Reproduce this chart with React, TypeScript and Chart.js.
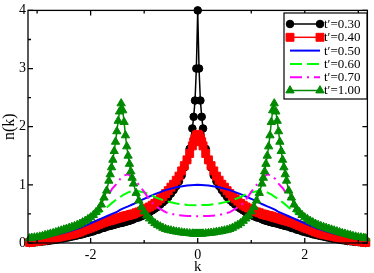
import React, { useEffect, useRef } from 'react';
import { Chart, registerables } from 'chart.js';

Chart.register(...registerables);

// k grid for the marker series (black circles, red squares, green triangles)
const kMarked = [
  -3.14, -3.1, -3.05, -3.0, -2.95,
  -2.9, -2.85, -2.8, -2.75, -2.7, -2.65, -2.6, -2.55, -2.5, -2.45,
  -2.4, -2.35, -2.3, -2.25, -2.2, -2.15, -2.1, -2.05, -2.0, -1.95,
  -1.9, -1.85, -1.8, -1.75, -1.7, -1.66, -1.635, -1.61, -1.585, -1.56,
  -1.535, -1.51, -1.485, -1.46, -1.43, -1.4, -1.375, -1.35, -1.325, -1.3,
  -1.275, -1.25, -1.225, -1.2, -1.15, -1.1, -1.05, -1.0, -0.95, -0.9,
  -0.85, -0.8, -0.75, -0.7, -0.65, -0.6, -0.55, -0.5, -0.45, -0.4,
  -0.35, -0.3, -0.25, -0.2, -0.15, -0.1, -0.075, -0.05, -0.025,
  0, 0.025, 0.05, 0.075, 0.1, 0.15, 0.2, 0.25, 0.3, 0.35,
  0.4, 0.45, 0.5, 0.55, 0.6, 0.65, 0.7, 0.75, 0.8, 0.85,
  0.9, 0.95, 1.0, 1.05, 1.1, 1.15, 1.2, 1.225, 1.25, 1.275,
  1.3, 1.325, 1.35, 1.375, 1.4, 1.43, 1.46, 1.485, 1.51, 1.535,
  1.56, 1.585, 1.61, 1.635, 1.66, 1.7, 1.75, 1.8, 1.85, 1.9,
  1.95, 2.0, 2.05, 2.1, 2.15, 2.2, 2.25, 2.3, 2.35, 2.4,
  2.45, 2.5, 2.55, 2.6, 2.65, 2.7, 2.75, 2.8, 2.85, 2.9,
  2.95, 3.0, 3.05, 3.1, 3.14,
];

// t' = 0.30
const nT030 = [
  0.0, 0.005, 0.01, 0.015, 0.02,
  0.025, 0.03, 0.035, 0.042, 0.05, 0.057, 0.065, 0.072, 0.08, 0.09,
  0.1, 0.11, 0.12, 0.13, 0.14, 0.15, 0.165, 0.175, 0.19, 0.2,
  0.22, 0.23, 0.25, 0.26, 0.28, 0.29, 0.295, 0.3, 0.31, 0.315,
  0.32, 0.33, 0.335, 0.34, 0.345, 0.35, 0.36, 0.365, 0.37, 0.38,
  0.385, 0.39, 0.4, 0.41, 0.43, 0.44, 0.46, 0.48, 0.51, 0.53,
  0.56, 0.59, 0.62, 0.66, 0.7, 0.74, 0.79, 0.85, 0.91, 0.98,
  1.06, 1.16, 1.3, 1.42, 1.62, 1.97, 2.17, 2.45, 3.0,
  4.0, 3.0, 2.45, 2.17, 1.97, 1.62, 1.42, 1.3, 1.16, 1.06,
  0.98, 0.91, 0.85, 0.79, 0.74, 0.7, 0.66, 0.62, 0.59, 0.56,
  0.53, 0.51, 0.48, 0.46, 0.44, 0.43, 0.41, 0.4, 0.39, 0.385,
  0.38, 0.37, 0.365, 0.36, 0.35, 0.345, 0.34, 0.335, 0.33, 0.32,
  0.315, 0.31, 0.3, 0.295, 0.29, 0.28, 0.26, 0.25, 0.23, 0.22,
  0.2, 0.19, 0.175, 0.165, 0.15, 0.14, 0.13, 0.12, 0.11, 0.1,
  0.09, 0.08, 0.072, 0.065, 0.057, 0.05, 0.042, 0.035, 0.03, 0.025,
  0.02, 0.015, 0.01, 0.005, 0.0,
];

// t' = 0.40
const nT040 = [
  0.01, 0.015, 0.025, 0.03, 0.038,
  0.045, 0.052, 0.06, 0.07, 0.08, 0.09, 0.1, 0.11, 0.12, 0.13,
  0.14, 0.15, 0.16, 0.175, 0.19, 0.21, 0.23, 0.245, 0.26, 0.28,
  0.3, 0.32, 0.34, 0.355, 0.37, 0.38, 0.39, 0.395, 0.4, 0.41,
  0.415, 0.42, 0.43, 0.435, 0.44, 0.45, 0.46, 0.465, 0.47, 0.475,
  0.48, 0.49, 0.495, 0.5, 0.52, 0.535, 0.55, 0.57, 0.6, 0.62,
  0.65, 0.68, 0.72, 0.76, 0.8, 0.85, 0.9, 0.96, 1.01, 1.08,
  1.15, 1.24, 1.33, 1.43, 1.54, 1.67, 1.74, 1.8, 1.85,
  1.87, 1.85, 1.8, 1.74, 1.67, 1.54, 1.43, 1.33, 1.24, 1.15,
  1.08, 1.01, 0.96, 0.9, 0.85, 0.8, 0.76, 0.72, 0.68, 0.65,
  0.62, 0.6, 0.57, 0.55, 0.535, 0.52, 0.5, 0.495, 0.49, 0.48,
  0.475, 0.47, 0.465, 0.46, 0.45, 0.44, 0.435, 0.43, 0.42, 0.415,
  0.41, 0.4, 0.395, 0.39, 0.38, 0.37, 0.355, 0.34, 0.32, 0.3,
  0.28, 0.26, 0.245, 0.23, 0.21, 0.19, 0.175, 0.16, 0.15, 0.14,
  0.13, 0.12, 0.11, 0.1, 0.09, 0.08, 0.07, 0.06, 0.052, 0.045,
  0.038, 0.03, 0.025, 0.015, 0.01,
];

// t' = 1.00
const nT100 = [
  0.08, 0.09, 0.095, 0.1, 0.11,
  0.12, 0.135, 0.145, 0.16, 0.17, 0.185, 0.2, 0.215, 0.23, 0.245,
  0.26, 0.275, 0.29, 0.31, 0.33, 0.355, 0.38, 0.41, 0.44, 0.48,
  0.53, 0.58, 0.66, 0.78, 0.9, 1.07, 1.18, 1.3, 1.43, 1.58,
  1.74, 1.92, 2.1, 2.26, 2.4, 2.28, 2.08, 1.85, 1.66, 1.5,
  1.36, 1.23, 1.12, 1.02, 0.86, 0.73, 0.62, 0.54, 0.47, 0.42,
  0.38, 0.34, 0.31, 0.285, 0.26, 0.24, 0.225, 0.215, 0.205, 0.195,
  0.19, 0.18, 0.175, 0.17, 0.165, 0.162, 0.16, 0.16, 0.16,
  0.16, 0.16, 0.16, 0.16, 0.162, 0.165, 0.17, 0.175, 0.18, 0.19,
  0.195, 0.205, 0.215, 0.225, 0.24, 0.26, 0.285, 0.31, 0.34, 0.38,
  0.42, 0.47, 0.54, 0.62, 0.73, 0.86, 1.02, 1.12, 1.23, 1.36,
  1.5, 1.66, 1.85, 2.08, 2.28, 2.4, 2.26, 2.1, 1.92, 1.74,
  1.58, 1.43, 1.3, 1.18, 1.07, 0.9, 0.78, 0.66, 0.58, 0.53,
  0.48, 0.44, 0.41, 0.38, 0.355, 0.33, 0.31, 0.29, 0.275, 0.26,
  0.245, 0.23, 0.215, 0.2, 0.185, 0.17, 0.16, 0.145, 0.135, 0.12,
  0.11, 0.1, 0.095, 0.09, 0.08,
];

// k grid for the plain line series
const kLine = [
  -3.14, -3.0, -2.8, -2.6, -2.4, -2.2, -2.0, -1.8, -1.7, -1.6, -1.5, -1.45, -1.38, -1.3, -1.2, -1.1, -1.0, -0.9,
  -0.8, -0.6, -0.4, -0.2,
  0,
  0.2, 0.4, 0.6, 0.8, 0.9, 1.0, 1.1, 1.2, 1.3, 1.38, 1.45, 1.5, 1.6, 1.7, 1.8, 2.0, 2.2, 2.4, 2.6, 2.8, 3.0, 3.14,
];

// t' = 0.50
const nT050 = [
  0.05, 0.07, 0.11, 0.15, 0.2, 0.26, 0.34, 0.42, 0.46, 0.5, 0.54, 0.57, 0.6, 0.63, 0.67, 0.72, 0.76, 0.8,
  0.84, 0.91, 0.96, 0.99,
  1.0,
  0.99, 0.96, 0.91, 0.84, 0.8, 0.76, 0.72, 0.67, 0.63, 0.6, 0.57, 0.54, 0.5, 0.46, 0.42, 0.34, 0.26, 0.2, 0.15, 0.11, 0.07, 0.05,
];

// t' = 0.60
const nT060 = [
  0.05, 0.07, 0.11, 0.16, 0.22, 0.3, 0.41, 0.54, 0.61, 0.69, 0.76, 0.79, 0.83, 0.87, 0.9, 0.89, 0.87, 0.84,
  0.79, 0.72, 0.68, 0.655,
  0.65,
  0.655, 0.68, 0.72, 0.79, 0.84, 0.87, 0.89, 0.9, 0.87, 0.83, 0.79, 0.76, 0.69, 0.61, 0.54, 0.41, 0.3, 0.22, 0.16, 0.11, 0.07, 0.05,
];

// t' = 0.70
const nT070 = [
  0.05, 0.07, 0.11, 0.16, 0.23, 0.32, 0.45, 0.63, 0.78, 0.93, 1.03, 1.1, 1.16, 1.18, 1.12, 1.0, 0.88, 0.74,
  0.64, 0.53, 0.48, 0.465,
  0.46,
  0.465, 0.48, 0.53, 0.64, 0.74, 0.88, 1.0, 1.12, 1.18, 1.16, 1.1, 1.03, 0.93, 0.78, 0.63, 0.45, 0.32, 0.23, 0.16, 0.11, 0.07, 0.05,
];

const legendLabels = ['t\u2032=0.30', 't\u2032=0.40', 't\u2032=0.50', 't\u2032=0.60', 't\u2032=0.70', 't\u2032=1.00'];

const xTickValues = [-2, 0, 2];
const xTickLabels = ['-2', '0', '2'];
const xMinorValues = [-3, -1, 1, 3];
const yTickValues = [0, 1, 2, 3, 4];
const yTickLabels = ['0', '1', '2', '3', '4'];
const yMinorValues = [0.5, 1.5, 2.5, 3.5];

const SERIF = "'Liberation Serif', 'DejaVu Serif', serif";

type Series = {
  label: string;
  xs: number[];
  ys: number[];
  color: string;
  width: number;
  dash: number[];
  marker: string | null;
  radius: number;
  order: number;
};

const series: Series[] = [
  { label: legendLabels[0], xs: kMarked, ys: nT030, color: '#000000', width: 1.5, dash: [], marker: 'circle', radius: 3.8, order: 6 },
  { label: legendLabels[1], xs: kMarked, ys: nT040, color: '#ff0000', width: 1.5, dash: [], marker: 'rect', radius: 5.6, order: 5 },
  { label: legendLabels[2], xs: kLine, ys: nT050, color: '#0000ff', width: 2, dash: [], marker: null, radius: 0, order: 4 },
  { label: legendLabels[3], xs: kLine, ys: nT060, color: '#00ff00', width: 2, dash: [12, 5], marker: null, radius: 0, order: 3 },
  { label: legendLabels[4], xs: kLine, ys: nT070, color: '#ff00ff', width: 2, dash: [12, 5, 2, 5], marker: null, radius: 0, order: 2 },
  { label: legendLabels[5], xs: kMarked, ys: nT100, color: '#008a00', width: 1.5, dash: [], marker: 'triangle', radius: 4.8, order: 1 },
];

function drawMarker(ctx: CanvasRenderingContext2D, style: string, x: number, y: number, r: number, color: string) {
  ctx.save();
  ctx.setLineDash([]);
  ctx.fillStyle = color;
  ctx.strokeStyle = color;
  ctx.lineWidth = 1;
  ctx.beginPath();
  if (style === 'circle') {
    ctx.arc(x, y, r, 0, Math.PI * 2);
  } else if (style === 'rect') {
    const s = r * Math.SQRT1_2;
    ctx.rect(x - s, y - s, 2 * s, 2 * s);
  } else if (style === 'triangle') {
    let a = 0;
    ctx.moveTo(x + Math.sin(a) * r, y - Math.cos(a) * r);
    a += (2 * Math.PI) / 3;
    ctx.lineTo(x + Math.sin(a) * r, y - Math.cos(a) * r);
    a += (2 * Math.PI) / 3;
    ctx.lineTo(x + Math.sin(a) * r, y - Math.cos(a) * r);
    ctx.closePath();
  }
  ctx.fill();
  ctx.stroke();
  ctx.restore();
}

const framePlugin = {
  id: 'frameTicks',
  afterDatasetsDraw(chart: any) {
    const { ctx, chartArea } = chart;
    const xs = chart.scales.x;
    const ys = chart.scales.y;
    const { left, right, top, bottom } = chartArea;
    ctx.save();
    ctx.strokeStyle = '#000';
    ctx.lineWidth = 1.3;
    ctx.setLineDash([]);
    const major = 5;
    const minor = 3;
    ctx.beginPath();
    const xt = (vals: number[], len: number) => {
      vals.forEach((v) => {
        const px = xs.getPixelForValue(v);
        ctx.moveTo(px, bottom);
        ctx.lineTo(px, bottom - len);
        ctx.moveTo(px, top);
        ctx.lineTo(px, top + len);
      });
    };
    const yt = (vals: number[], len: number) => {
      vals.forEach((v) => {
        const py = ys.getPixelForValue(v);
        ctx.moveTo(left, py);
        ctx.lineTo(left + len, py);
        ctx.moveTo(right, py);
        ctx.lineTo(right - len, py);
      });
    };
    xt(xTickValues, major);
    xt(xMinorValues, minor);
    yt(yTickValues, major);
    yt(yMinorValues, minor);
    ctx.stroke();
    ctx.strokeRect(left, top, right - left, bottom - top);

    // legend box
    const bx = 284;
    const by = 13;
    const bw = 83;
    const bh = 86;
    ctx.fillStyle = '#fff';
    ctx.fillRect(bx, by, bw, bh);
    ctx.lineWidth = 1.2;
    ctx.strokeRect(bx, by, bw, bh);
    const rowH = 13.3;
    series.forEach((s, i) => {
      const cy = by + 11 + i * rowH;
      const x0 = 290;
      const x1 = 320;
      ctx.save();
      ctx.strokeStyle = s.color;
      ctx.lineWidth = s.width;
      ctx.setLineDash(s.dash);
      ctx.beginPath();
      ctx.moveTo(x0, cy);
      ctx.lineTo(x1, cy);
      ctx.stroke();
      ctx.restore();
      if (s.marker) {
        drawMarker(ctx, s.marker, x0, cy, s.radius, s.color);
        drawMarker(ctx, s.marker, x1, cy, s.radius, s.color);
      }
      ctx.fillStyle = '#000';
      ctx.font = `13px ${SERIF}`;
      ctx.textAlign = 'left';
      ctx.textBaseline = 'middle';
      ctx.fillText(s.label, 324, cy + 0.5);
    });
    ctx.restore();
  },
};

export default function App() {
  const canvasRef = useRef<HTMLCanvasElement | null>(null);

  useEffect(() => {
    document.body.style.margin = '0';
    const canvas = canvasRef.current;
    if (!canvas) return;
    const datasets = series.map((s) => ({
      label: s.label,
      data: s.xs.map((x, i) => ({ x, y: s.ys[i] })),
      borderColor: s.color,
      backgroundColor: s.color,
      borderWidth: s.width,
      borderDash: s.dash,
      pointStyle: s.marker || 'circle',
      pointRadius: s.radius,
      pointBorderWidth: 1,
      pointBorderColor: s.color,
      pointBackgroundColor: s.color,
      fill: false,
      tension: 0,
      order: s.order,
      clip: 8,
    }));
    const chart = new Chart(canvas, {
      type: 'line',
      data: { datasets } as any,
      options: {
        animation: false,
        responsive: false,
        maintainAspectRatio: false,
        layout: { padding: { top: 5, right: 4, left: 0, bottom: 0 } },
        plugins: { legend: { display: false }, tooltip: { enabled: false } },
        scales: {
          x: {
            type: 'linear',
            min: -3.17,
            max: 3.17,
            grid: { display: false, drawTicks: false },
            border: { display: false },
            afterBuildTicks: (s: any) => {
              s.ticks = xTickValues.map((v) => ({ value: v }));
            },
            afterFit: (s: any) => {
              s.height = 30;
            },
            ticks: {
              autoSkip: false,
              maxRotation: 0,
              padding: 4,
              color: '#000',
              font: { family: SERIF, size: 14 },
              callback: (_v: any, i: number) => xTickLabels[i],
            },
            title: {
              display: true,
              text: 'k',
              color: '#000',
              font: { family: SERIF, size: 15, lineHeight: 1 },
              padding: { top: 0, bottom: -2 },
            },
          },
          y: {
            type: 'linear',
            min: 0,
            max: 4,
            grid: { display: false, drawTicks: false },
            border: { display: false },
            afterBuildTicks: (s: any) => {
              s.ticks = yTickValues.map((v) => ({ value: v }));
            },
            afterFit: (s: any) => {
              s.width = 28;
            },
            ticks: {
              autoSkip: false,
              padding: 2,
              color: '#000',
              font: { family: SERIF, size: 14 },
              callback: (_v: any, i: number) => yTickLabels[i],
            },
            title: {
              display: true,
              text: 'n(k)',
              color: '#000',
              font: { family: SERIF, size: 16, lineHeight: 1.2 },
              padding: 0,
            },
          },
        },
      } as any,
      plugins: [framePlugin],
    });
    return () => chart.destroy();
  }, []);

  return (
    <div style={{ position: 'absolute', left: 0, top: 0, width: 374, height: 273, background: '#fff' }}>
      <canvas ref={canvasRef} width={374} height={273} />
    </div>
  );
}
